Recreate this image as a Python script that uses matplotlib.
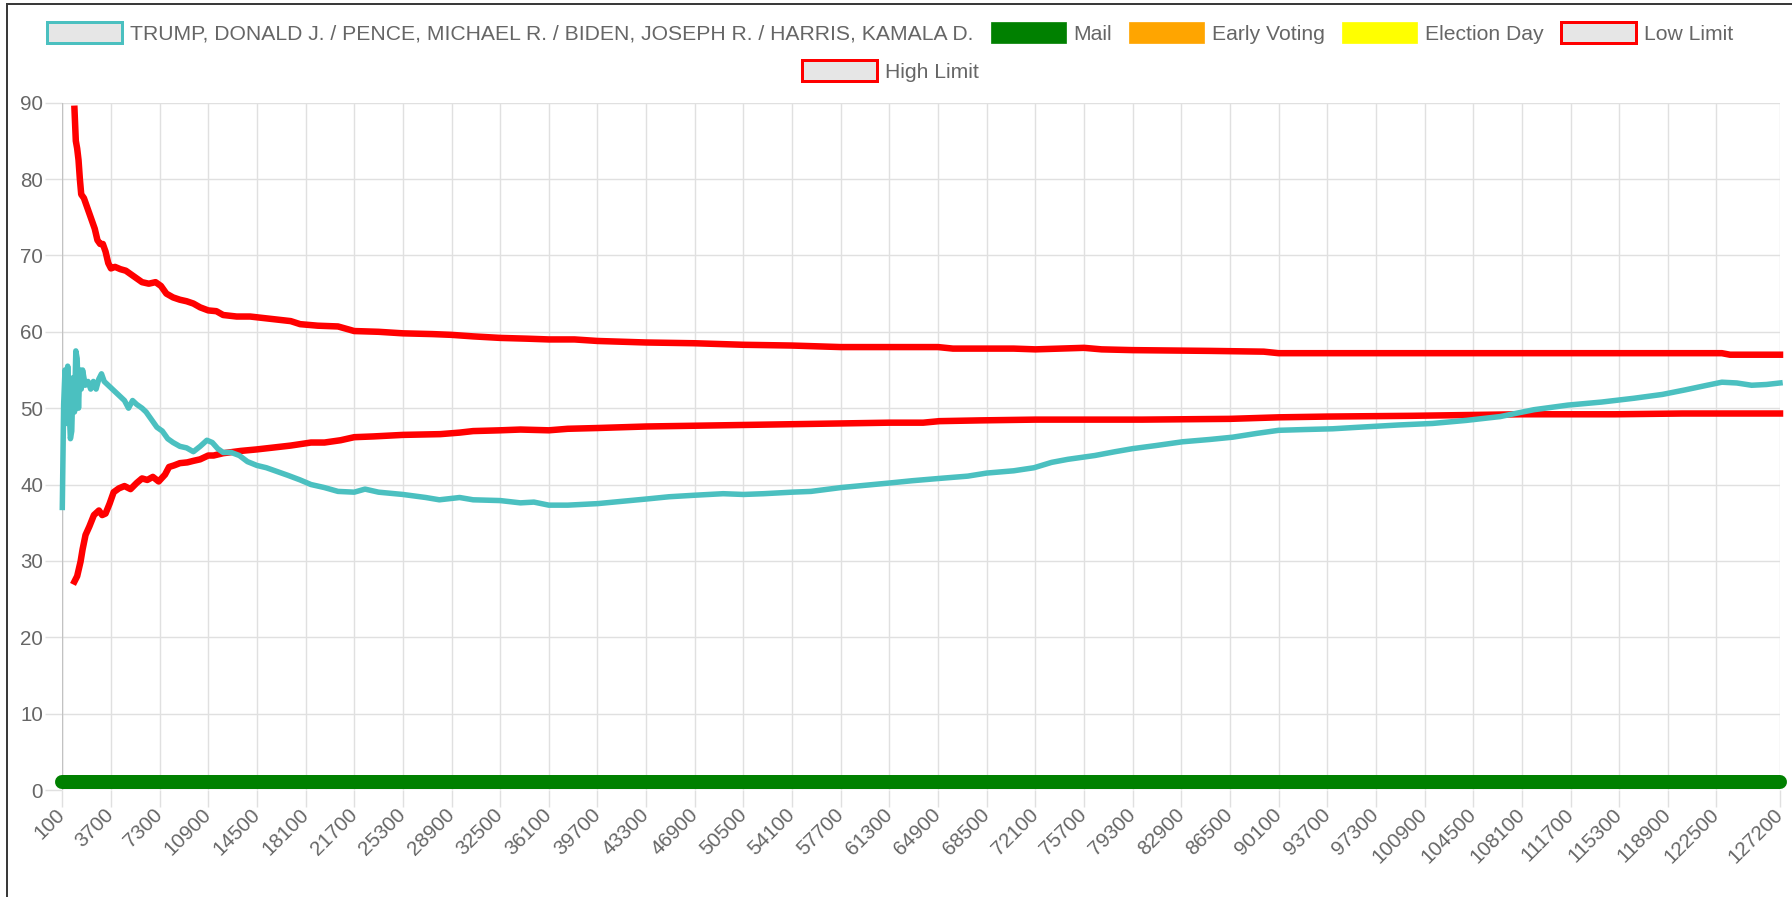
import matplotlib
matplotlib.use("Agg")
import matplotlib.pyplot as plt
from matplotlib.patches import Rectangle
from matplotlib.lines import Line2D

plt.rcParams['font.family'] = ['Liberation Sans', 'DejaVu Sans']

# ---------------- data ----------------
x_tick_labels = [100, 3700, 7300, 10900, 14500, 18100, 21700, 25300, 28900, 32500,
                 36100, 39700, 43300, 46900, 50500, 54100, 57700, 61300, 64900, 68500,
                 72100, 75700, 79300, 82900, 86500, 90100, 93700, 97300, 100900, 104500,
                 108100, 111700, 115300, 118900, 122500, 127200]
y_ticks = [0, 10, 20, 30, 40, 50, 60, 70, 80, 90]

ticket_x = [100, 200, 300, 400, 500, 600, 700, 800, 900, 1000, 1100, 1200, 1300, 1400,
            1500, 1600, 1800, 2000, 2200, 2400, 2600, 2800, 3000, 3200, 3500, 3800, 4100,
            4400, 4700, 5000, 5300, 5600, 6000, 6300, 6700, 7100, 7500, 7900, 8300, 8800,
            9300, 9800, 10300, 10800, 11200, 11600, 12000, 12600, 13200, 13800, 14500,
            15200, 16000, 16800, 17700, 18500, 19500, 20500, 21700, 22500, 23500, 25300,
            27000, 28000, 29500, 30500, 32500, 34000, 35000, 36100, 37500, 39700, 41500,
            43300, 45000, 46900, 49000, 50500, 52000, 54100, 55500, 57700, 59500, 61300,
            63000, 65000, 67100, 68500, 70500, 72000, 73300, 74500, 76500, 78000, 79300,
            81000, 83000, 85000, 86700, 88500, 90100, 92000, 94100, 96000, 99000, 101500,
            104000, 106500, 109000, 111500, 114000, 116400, 118500, 120200, 121800,
            122900, 124000, 125100, 126200, 127200]
ticket_y = [37.0, 50.5, 55.0, 48.0, 55.5, 50.0, 46.0, 47.0, 54.0, 49.5, 57.5, 56.5, 50.0,
            55.0, 52.5, 55.0, 53.0, 53.5, 52.5, 53.5, 52.5, 53.8, 54.5, 53.5, 53.0, 52.5,
            52.0, 51.5, 51.0, 50.0, 51.0, 50.5, 50.0, 49.5, 48.5, 47.5, 47.0, 46.0, 45.5,
            45.0, 44.8, 44.3, 45.0, 45.8, 45.5, 44.7, 44.2, 44.2, 43.8, 43.0, 42.5, 42.2,
            41.7, 41.2, 40.6, 40.0, 39.6, 39.1, 39.0, 39.4, 39.0, 38.7, 38.3, 38.0, 38.3,
            38.0, 37.9, 37.6, 37.7, 37.3, 37.3, 37.5, 37.8, 38.1, 38.4, 38.6, 38.8, 38.7,
            38.8, 39.0, 39.1, 39.6, 39.9, 40.2, 40.5, 40.8, 41.1, 41.5, 41.8, 42.2, 42.9,
            43.3, 43.8, 44.3, 44.7, 45.1, 45.6, 45.9, 46.2, 46.7, 47.1, 47.2, 47.3, 47.5,
            47.8, 48.0, 48.4, 48.9, 49.8, 50.4, 50.8, 51.3, 51.8, 52.4, 53.0, 53.4, 53.3,
            53.0, 53.1, 53.3]

high_x = [1000, 1100, 1200, 1300, 1400, 1500, 1700, 1900, 2100, 2300, 2500, 2700, 2900,
          3100, 3300, 3500, 3700, 4000, 4400, 4800, 5200, 5600, 6000, 6500, 7000, 7400,
          7800, 8300, 8800, 9300, 9800, 10300, 10900, 11500, 12000, 13000, 14000, 15000,
          16000, 17000, 17700, 19000, 20500, 21700, 23500, 25300, 27500, 28900, 30500,
          32500, 34500, 36100, 38000, 39700, 41500, 43300, 46900, 50500, 54100, 57700,
          61300, 64900, 66000, 70500, 72100, 75700, 77000, 79300, 85000, 89000, 90100,
          100000, 115000, 122900, 123500, 127200]
high_y = [89.2, 85.0, 84.0, 82.5, 80.0, 78.0, 77.5, 76.5, 75.5, 74.5, 73.5, 72.0, 71.5,
          71.5, 70.5, 69.0, 68.3, 68.5, 68.2, 68.0, 67.5, 67.0, 66.5, 66.3, 66.5, 66.0,
          65.0, 64.5, 64.2, 64.0, 63.7, 63.2, 62.8, 62.7, 62.2, 62.0, 62.0, 61.8, 61.6,
          61.4, 61.0, 60.8, 60.7, 60.1, 60.0, 59.8, 59.7, 59.6, 59.4, 59.2, 59.1, 59.0,
          59.0, 58.8, 58.7, 58.6, 58.5, 58.3, 58.2, 58.0, 58.0, 58.0, 57.8, 57.8, 57.7,
          57.9, 57.7, 57.6, 57.5, 57.4, 57.2, 57.2, 57.2, 57.2, 57.0, 57.0]

low_x = [1000, 1200, 1450, 1600, 1820, 2100, 2440, 2810, 3050, 3300, 3600, 3900, 4290,
         4700, 5150, 5600, 6000, 6390, 6800, 7230, 7700, 8000, 8360, 8800, 9350, 9800,
         10300, 10900, 11300, 12000, 13290, 14500, 15500, 16990, 18500, 19500, 20690,
         21700, 23130, 25300, 28080, 29500, 30500, 32500, 34000, 36100, 37500, 39700,
         43300, 46900, 50500, 54100, 57700, 61300, 63800, 65000, 68000, 72100, 80000,
         86500, 90100, 93700, 100000, 108000, 115000, 120000, 127200]
low_y = [27.3, 28.0, 29.9, 31.5, 33.4, 34.5, 36.0, 36.6, 36.0, 36.2, 37.5, 39.0, 39.5,
         39.8, 39.4, 40.2, 40.8, 40.6, 41.0, 40.4, 41.3, 42.3, 42.5, 42.8, 42.9, 43.1,
         43.3, 43.8, 43.8, 44.1, 44.4, 44.6, 44.8, 45.1, 45.5, 45.5, 45.8, 46.2, 46.3,
         46.5, 46.6, 46.8, 47.0, 47.1, 47.2, 47.1, 47.3, 47.4, 47.6, 47.7, 47.8, 47.9,
         48.0, 48.1, 48.1, 48.3, 48.4, 48.5, 48.5, 48.6, 48.8, 48.9, 49.0, 49.2, 49.2,
         49.3, 49.3]

mail_x = [100, 127200]
mail_y = [1.0, 1.0]

legend_labels = ["TRUMP, DONALD J. / PENCE, MICHAEL R. / BIDEN, JOSEPH R. / HARRIS, KAMALA D.",
                 "Mail", "Early Voting", "Election Day", "Low Limit", "High Limit"]
legend_fill = ["#E6E6E6", "#008000", "#FFA500", "#FFFF00", "#E6E6E6", "#E6E6E6"]
legend_edge = ["#4BC0C0", "#008000", "#FFA500", "#FFFF00", "#FF0000", "#FF0000"]

# ---------------- figure ----------------
W, H = 1792, 897
fig = plt.figure(figsize=(W / 100, H / 100), dpi=100)
px = 72 / 100  # points per pixel

x0, x1, ytop, ybot = 62.3, 1780.0, 102.7, 790.0
ax = fig.add_axes([x0 / W, 1 - ybot / H, (x1 - x0) / W, (ybot - ytop) / H])
ax.set_xlim(x_tick_labels[0], x_tick_labels[-1])
ax.set_ylim(y_ticks[0], y_ticks[-1])
for s in ax.spines.values():
    s.set_visible(False)

grid_c = "#E0E0E0"
ax.set_xticks(x_tick_labels)
ax.set_xticklabels([str(v) for v in x_tick_labels], rotation=45, ha='right',
                   va='center', rotation_mode='anchor')
ax.set_yticks(y_ticks)
ax.set_yticklabels([str(v) for v in y_ticks])
ax.grid(True, color=grid_c, linewidth=1.4 * px)
ax.tick_params(axis='both', length=17 * px, width=1.4 * px, color=grid_c,
               labelcolor="#666666", labelsize=14.8)
ax.tick_params(axis='y', pad=1.5)
ax.tick_params(axis='x', pad=3.5)
ax.axvline(x_tick_labels[0], color="#C2C2C2", linewidth=1.4 * px, zorder=1)
ax.set_axisbelow(True)

ax.plot(mail_x, mail_y, color="#008000", linewidth=14 * px, solid_capstyle='round',
        clip_on=False, zorder=2)
ax.plot(high_x, high_y, color="#FF0000", linewidth=6.5 * px, clip_on=False, zorder=3,
        solid_joinstyle='round')
ax.plot(low_x, low_y, color="#FF0000", linewidth=6.5 * px, clip_on=False, zorder=3,
        solid_joinstyle='round')
ax.plot(ticket_x, ticket_y, color="#4BC0C0", linewidth=5.5 * px, clip_on=False, zorder=4,
        solid_joinstyle='round')

# ---------------- legend (pixel overlay) ----------------
ov = fig.add_axes([0, 0, 1, 1], zorder=5)
ov.set_xlim(0, W)
ov.set_ylim(H, 0)
ov.axis('off')
ov.patch.set_alpha(0)

fig.canvas.draw()
renderer = fig.canvas.get_renderer()
fs = 15.2
box_w, box_h, gap, spacing = 75, 21, 8, 17
rows = [[0, 1, 2, 3, 4], [5]]
row_base = [39.5, 77.5]
center = 890
for r, idxs in enumerate(rows):
    widths = []
    for i in idxs:
        t = ov.text(0, 0, legend_labels[i], fontsize=fs)
        widths.append(t.get_window_extent(renderer).width)
        t.remove()
    total = sum(box_w + gap + w for w in widths) + spacing * (len(idxs) - 1)
    x = center - total / 2
    yb = row_base[r]
    for i, w in zip(idxs, widths):
        outlined = legend_fill[i] != legend_edge[i]
        lw = 3 * px if outlined else 0.5
        ov.add_patch(Rectangle((x, yb - 7 - box_h / 2), box_w, box_h,
                               facecolor=legend_fill[i], edgecolor=legend_edge[i],
                               linewidth=lw))
        ov.text(x + box_w + gap, yb, legend_labels[i], fontsize=fs, color="#666666",
                ha='left', va='baseline')
        x += box_w + gap + w + spacing

# frame lines (top and left)
ov.add_line(Line2D([6.5, W], [4.5, 4.5], color="#3A3A3A", linewidth=2 * px))
ov.add_line(Line2D([6.5, 6.5], [4.5, H], color="#3A3A3A", linewidth=2 * px))

fig.savefig("out.png", dpi=100)
